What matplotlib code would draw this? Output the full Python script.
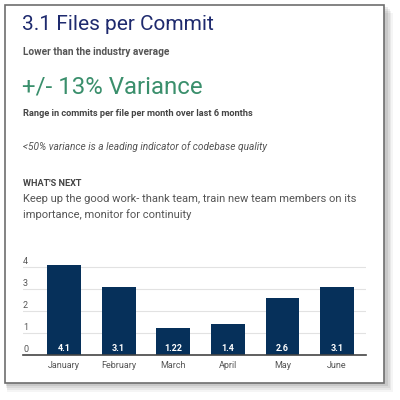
import matplotlib.pyplot as plt
from matplotlib.patches import Rectangle

months = ["January", "February", "March", "April", "May", "June"]
files_per_commit = [4.1, 3.1, 1.22, 1.4, 2.6, 3.1]
value_labels = ["4.1", "3.1", "1.22", "1.4", "2.6", "3.1"]
y_ticks = [0, 1, 2, 3, 4]

plt.rcParams['font.family'] = ['Roboto', 'DejaVu Sans']

W, H = 400, 400
fig = plt.figure(figsize=(4, 4), dpi=100)
fig.patch.set_facecolor("white")

# card with a soft shadow
for i, a in enumerate([0.04, 0.05, 0.06, 0.08]):
    off = 8 - 2 * i
    fig.patches.append(Rectangle((5 / W + off / W * 0.3, (H - 384 - off) / H), 381 / W + off / W * 0.6, 379 / H,
                                 transform=fig.transFigure, facecolor="black", alpha=a,
                                 edgecolor="none", zorder=0))
fig.patches.append(Rectangle((5 / W, (H - 383) / H), 379 / W, 378 / H, transform=fig.transFigure,
                             facecolor="white", edgecolor="#6e6e6e", linewidth=1.2, zorder=1))


def txt(x, y, s, **kw):
    fig.text(x / W, 1 - y / H, s, va="center", ha="left", zorder=3, **kw)


txt(22, 25, "3.1 Files per Commit", fontsize=15, color="#1e2a6e")
txt(23, 52, "Lower than the industry average", fontsize=7.3, color="#555555", fontweight="bold")
txt(22, 87, "+/- 13% Variance", fontsize=17.3, color="#3a8f6c")
txt(23, 114, "Range in commits per file per month over last 6 months", fontsize=6.7,
    color="#444444", fontweight="bold")
txt(23, 147, "<50% variance is a leading indicator of codebase quality", fontsize=7.25,
    color="#555555", style="italic")
txt(23, 183, "WHAT'S NEXT", fontsize=6.6, color="#444444", fontweight="bold")
txt(23, 199, "Keep up the good work- thank team, train new team members on its", fontsize=8.0,
    color="#555555")
txt(23, 215, "importance, monitor for continuity", fontsize=8.0, color="#555555")

# bar chart
ax = fig.add_axes([23 / W, 1 - 355 / H, (366 - 23) / W, (355 - 256) / H])
ax.set_zorder(2)
x = list(range(len(months)))
ax.bar(x, files_per_commit, width=0.62, color="#06305a", zorder=2)
ax.set_xlim(-0.75, 5.53)
ax.set_ylim(0, 4.5)
for yv in y_ticks[1:]:
    ax.axhline(yv, color="#e2e2e2", linewidth=0.8, zorder=1)
for yv in y_ticks:
    ax.text(0.0, yv + 0.25, str(yv), transform=ax.get_yaxis_transform(), fontsize=6.5,
            color="#555555", ha="left", va="center")
for xi, lab in zip(x, value_labels):
    ax.text(xi, 0.08, lab, ha="center", va="bottom", fontsize=6.5, color="white",
            fontweight="bold", zorder=3)
ax.set_xticks(x)
ax.set_xticklabels(months, fontsize=6.5, color="#555555")
ax.tick_params(axis="x", length=0, pad=4)
ax.set_yticks([])
for s in ["top", "right", "left"]:
    ax.spines[s].set_visible(False)
ax.spines["bottom"].set_color("#444444")
ax.spines["bottom"].set_linewidth(1.2)
ax.patch.set_alpha(0)

fig.savefig("out.png", dpi=100)
